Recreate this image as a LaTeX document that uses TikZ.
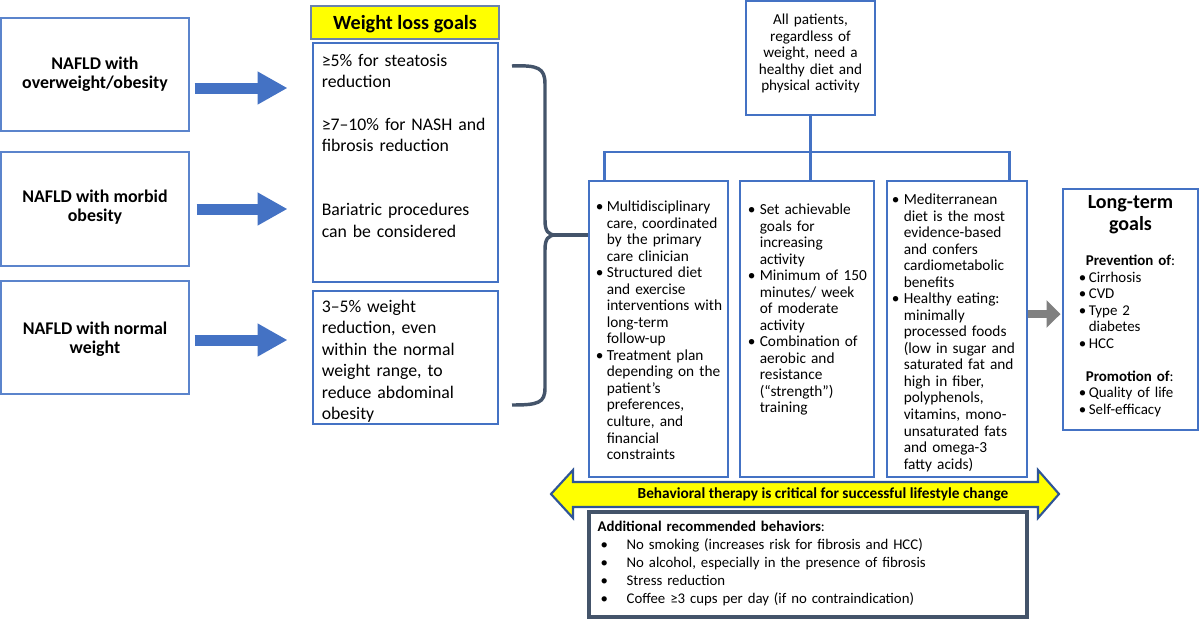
\documentclass[tikz,border=0pt]{standalone}
\usepackage{fontspec}
\setmainfont{Carlito}
\usetikzlibrary{arrows.meta,fit,positioning}

\definecolor{boxblue}{HTML}{4472C4}
\definecolor{lightblue}{HTML}{5B84CC}
\definecolor{slate}{HTML}{44546A}
\definecolor{midgray}{HTML}{808080}
\definecolor{navyline}{HTML}{2F5597}
\definecolor{goalyellow}{HTML}{FFFF00}

% bullet item with hanging indent
\newcommand{\colitem}[2][8.25pt]{\hangindent=#1\hangafter=1\noindent
  \makebox[#1][l]{\textbullet}{\let\\\newline#2}\par}

\tikzset{
  groupbox/.style={draw=lightblue, line width=0.8pt, inner sep=0pt},
  grouptext/.style={inner sep=0pt, align=center,
    font=\fontsize{13.4}{14.3}\selectfont\bfseries},
  goalbox/.style={draw=boxblue, line width=2.2pt, inner sep=0pt},
  txt/.style={anchor=base west, inner sep=0pt, align=left, text width=#1},
  ctxt/.style={anchor=base, inner sep=0pt, align=center, text width=#1},
  fatarrow/.style={draw=boxblue, line width=8.25pt,
    -{Triangle[length=22.5pt,width=23.25pt]}},
  tree/.style={draw=boxblue, line width=2.2pt},
}

\begin{document}
\begin{tikzpicture}[x=0.75pt,y=-0.75pt]
\useasboundingbox (0,0) rectangle (1200,618);

% patient groups
\node[groupbox, fit={(1,18) (189,131)}] (grp1) {};
\node[groupbox, fit={(1,152) (189,266)}] (grp2) {};
\node[groupbox, fit={(1,281) (189,394)}] (grp3) {};
\node[grouptext] (grp1text) at (grp1.center) {NAFLD with\\overweight/obesity};
\node[grouptext] (grp2text) at ([shift={(0,-1.5)}]grp2.center) {NAFLD with morbid\\obesity};
\node[grouptext] (grp3text) at ([shift={(0,1.5)}]grp3.center) {NAFLD with normal\\weight};

% weight loss goals
\node[fit={(311,6) (499,39)}, fill=goalyellow, draw=lightblue!60!gray, line width=0.8pt,
  inner sep=0pt] (wlg) {};
\node[inner sep=0pt, font=\fontsize{15.1}{16}\selectfont\bfseries] (wlgtext)
  at ([shift={(0,2)}]wlg.center) {Weight loss goals};
\node[goalbox, fit={(313,43) (498,282)}] (wla) {};
\node[goalbox, fit={(313,291) (498,424)}] (wlb) {};
\node[txt=170pt, font=\fontsize{13.3}{16.05}\selectfont] (wlatext)
  at ([shift={(10,24.5)}]wla.north west)
  {≥5\% for steatosis\\reduction\\[16.05pt]≥7--10\% for NASH and\\fibrosis reduction\\[32.1pt]Bariatric procedures\\can be considered};
\node[txt=170pt, font=\fontsize{13.3}{16.05}\selectfont] (wlbtext)
  at ([shift={(10,23)}]wlb.north west)
  {3--5\% weight\\reduction, even\\within the normal\\weight range, to\\reduce abdominal\\obesity};

\draw[fatarrow] ([shift={(5,13.5)}]grp1.east) -- ++(93,0);
\draw[fatarrow] ([shift={(7,0)}]grp2.east) -- ++(91,0);
\draw[fatarrow] ([shift={(5,2.5)}]grp3.east) -- ++(93,0);

% all patients and the three columns
\node[goalbox, fit={(746,1) (875,115)}] (allpt) {};
\node[ctxt=120pt, font=\fontsize{11.4}{12.4}\selectfont] (allpttext)
  at ([shift={(0,25)}]allpt.north)
  {All patients,\\regardless of\\weight, need a\\healthy diet and\\physical activity};
\node[goalbox, fit={(589,181) (728,477)}] (col1) {};
\node[goalbox, fit={(740,181) (874,477)}] (col2) {};
\node[goalbox, fit={(887,181) (1027,477)}] (col3) {};
\coordinate (bus) at (810,152);
\draw[tree] (allpt.south) -- (allpt.south |- col2.north);
\draw[tree] ([shift={(17,0)}]col1.north west) |- (bus) -| ([shift={(-19,0)}]col3.north east);

\node[txt=125pt, font=\fontsize{11.5}{12.4}\selectfont] (col1text)
  at ([shift={(8,32)}]col1.north west) {%
  \colitem{Multidisciplinary\\care, coordinated\\by the primary\\care clinician}
  \colitem{Structured diet\\and exercise\\interventions with\\long-term\\follow-up}
  \colitem{Treatment plan\\depending on the\\patient’s\\preferences,\\culture, and\\financial\\constraints}};
\node[txt=125pt, font=\fontsize{11.5}{12.4}\selectfont] (col2text)
  at ([shift={(9,35)}]col2.north west) {%
  \colitem[9pt]{Set achievable\\goals for\\increasing\\activity}
  \colitem[9pt]{Minimum of 150\\minutes/ week\\of moderate\\activity}
  \colitem[9pt]{Combination of\\aerobic and\\resistance\\(“strength”)\\training}};
\node[txt=125pt, font=\fontsize{11.5}{12.4}\selectfont] (col3text)
  at ([shift={(6,25)}]col3.north west) {%
  \colitem[9pt]{Mediterranean\\diet is the most\\evidence-based\\and confers\\cardiometabolic\\benefits}
  \colitem[9pt]{Healthy eating:\\minimally\\processed foods\\(low in sugar and\\saturated fat and\\high in fiber,\\polyphenols,\\vitamins, mono-\\unsaturated fats\\and omega-3\\fatty acids)}};

% brace
\coordinate (tip) at (556,235);
\draw[slate, line width=2.6pt] (512,66) .. controls (538,65) and (545,68) .. (545,84)
  -- (545,220) .. controls (545,231) and (548,235) .. (tip)
  .. controls (548,235) and (545,239) .. (545,250)
  -- (545,388) .. controls (545,403) and (538,405) .. (512,405);
\draw[slate, line width=2.6pt] (tip) -- (tip -| col1.west);

% long-term goals
\node[goalbox, fit={(1063,189) (1198,430)}] (ltg) {};
\node[ctxt=100pt, font=\fontsize{15}{16.5}\selectfont\bfseries] (lttitle)
  at ([shift={(0,21)}]ltg.north) {Long-term\\goals};
\node[txt=100pt, font=\fontsize{11.2}{12.4}\selectfont] (ltbody)
  at ([shift={(17,78)}]ltg.north west) {%
  \hspace*{5.25pt}\textbf{Prevention of}:\par
  \colitem[7.5pt]{Cirrhosis}
  \colitem[7.5pt]{CVD}
  \colitem[7.5pt]{Type 2\\diabetes}
  \colitem[7.5pt]{HCC}
  \vspace{12.4pt}\noindent\hspace*{5.25pt}\textbf{Promotion of}:\par
  \colitem[7.5pt]{Quality of life}
  \colitem[7.5pt]{Self-efficacy}};
\draw[midgray, line width=6pt, -{Triangle[length=10.5pt,width=20.25pt]}]
  ([shift={(0,-15)}]col3.east) -- ([shift={(-1,4.5)}]ltg.west);

% behavioral therapy band
\draw[navyline, line width=1.6pt, fill=goalyellow] (551,494) -- (573,470) -- (573,482)
  -- (1038,482) -- (1038,470) -- (1059,494) -- (1038,518) -- (1038,507)
  -- (573,507) -- (573,518) -- cycle;
\node[anchor=base, inner sep=0pt, font=\fontsize{11.5}{12}\selectfont\bfseries] (behav)
  at (823,498) {Behavioral therapy is critical for successful lifestyle change};

% additional behaviors
\node[fit={(589,512) (1027,617)}, draw=slate, line width=2.4pt, inner sep=0pt] (extra) {};
\node[txt=320pt, font=\fontsize{11.1}{13.5}\selectfont] (extratext)
  at ([shift={(10,21.5)}]extra.north west) {%
  \textbf{Additional recommended behaviors}:\\
  \hspace*{2.25pt}\makebox[19.5pt][l]{\textbullet}No smoking (increases risk for fibrosis and HCC)\\
  \hspace*{2.25pt}\makebox[19.5pt][l]{\textbullet}No alcohol, especially in the presence of fibrosis\\
  \hspace*{2.25pt}\makebox[19.5pt][l]{\textbullet}Stress reduction\\
  \hspace*{2.25pt}\makebox[19.5pt][l]{\textbullet}Coffee ≥3 cups per day (if no contraindication)};
\end{tikzpicture}
\end{document}
